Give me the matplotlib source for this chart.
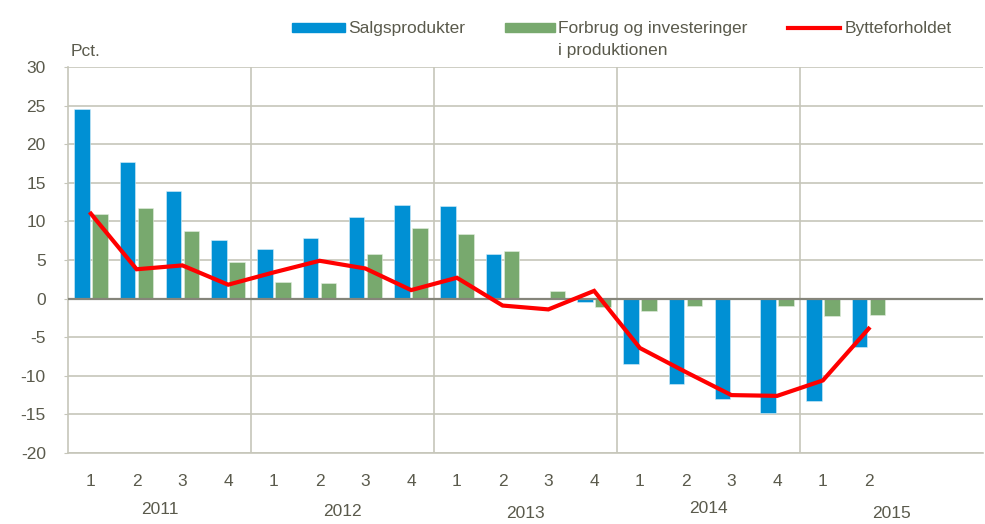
import numpy as np
import matplotlib
matplotlib.use('Agg')
import matplotlib.pyplot as plt
from matplotlib.patches import Rectangle
from matplotlib.lines import Line2D

plt.rcParams['font.family'] = ['Liberation Sans', 'DejaVu Sans']
plt.rcParams['axes.unicode_minus'] = False

years = ['2011', '2012', '2013', '2014', '2015']
quarters = ['1', '2', '3', '4'] * 4 + ['1', '2', '', '']

salg = [24.5, 17.7, 14.0, 7.6, 6.4, 7.8, 10.6, 12.1, 12.0, 5.8, 0.0, -0.5,
        -8.5, -11.0, -13.0, -14.8, -13.2, -6.3]
forbrug = [11.0, 11.7, 8.8, 4.7, 2.2, 2.0, 5.8, 9.1, 8.4, 6.2, 1.0, -1.1,
           -1.6, -0.9, 0.0, -0.9, -2.3, -2.1]
bytte = [11.0, 3.8, 4.3, 1.8, 3.4, 4.9, 3.9, 1.1, 2.7, -0.9, -1.4, 1.0,
         -6.4, -9.5, -12.5, -12.6, -10.6, -3.9]

blue = '#0090d4'
green = '#78a96e'
red = '#ff0000'
txt = '#5a5a4c'
grid = '#c6c6ba'

fig = plt.figure(figsize=(9.85, 5.24), dpi=100)
ax = fig.add_axes([68 / 985, 1 - 453 / 524, 915 / 985, 386 / 524])

x = np.arange(len(salg))
w = 0.335
ax.bar(x - 0.197, salg, w, color=blue, edgecolor='#d8eef8', linewidth=0.4, zorder=3)
ax.bar(x + 0.197, forbrug, w, color=green, edgecolor='#e4eee0', linewidth=0.4, zorder=3)
ax.plot(x, bytte, color=red, lw=3.0, zorder=4, solid_joinstyle='miter')

ax.set_xlim(-0.5, 19.5)
ax.set_ylim(-20, 30)
ax.set_yticks(range(-20, 31, 5))
ax.set_xticks([])
for yv in range(-20, 31, 5):
    if yv != 0:
        ax.axhline(yv, color=grid, lw=1.2, zorder=1)
ax.axhline(0, color='#85857a', lw=1.6, zorder=3.5)
for k in range(1, 5):
    ax.axvline(4 * k - 0.5, color=grid, lw=1.2, zorder=1)

for s in ['top', 'right']:
    ax.spines[s].set_visible(False)
ax.spines['left'].set_color(grid)
ax.spines['left'].set_linewidth(1.2)
ax.spines['bottom'].set_color(grid)
ax.spines['bottom'].set_linewidth(1.2)
ax.tick_params(axis='y', colors=txt, labelsize=12.5, length=3, color=grid, pad=13)

for i, q in enumerate(quarters):
    ax.text(i, -23.7, q, ha='center', va='center', color=txt, fontsize=12.5)
year_dy = [-27.3, -27.6, -27.9, -27.2, -27.9]
for k, yr in enumerate(years):
    ax.text(4 * k + 1.5, year_dy[k], yr, ha='center', va='center', color=txt, fontsize=12.5)

ax.text(-0.45, 31.0, 'Pct.', ha='left', va='bottom', color=txt, fontsize=12.5)

# legend, drawn by hand in figure pixels
H = 524.0
def fy(py):
    return 1 - py / H

fig.patches.append(Rectangle((292 / 985, fy(32)), 53 / 985, 9 / H, color=blue,
                             transform=fig.transFigure, figure=fig))
fig.patches.append(Rectangle((505 / 985, fy(32)), 50 / 985, 9 / H, color=green,
                             transform=fig.transFigure, figure=fig))
fig.lines.append(Line2D([788 / 985, 840 / 985], [fy(27.5), fy(27.5)], color=red, lw=3.0,
                        transform=fig.transFigure, figure=fig))
fig.text(348 / 985, fy(28), 'Salgsprodukter', ha='left', va='center', color=txt, fontsize=12.5)
fig.text(558 / 985, fy(28), 'Forbrug og investeringer', ha='left', va='center', color=txt, fontsize=12.5)
fig.text(558 / 985, fy(51), 'i produktionen', ha='left', va='center', color=txt, fontsize=12.5)
fig.text(845 / 985, fy(28), 'Bytteforholdet', ha='left', va='center', color=txt, fontsize=12.5)

fig.savefig('out.png', dpi=100)
